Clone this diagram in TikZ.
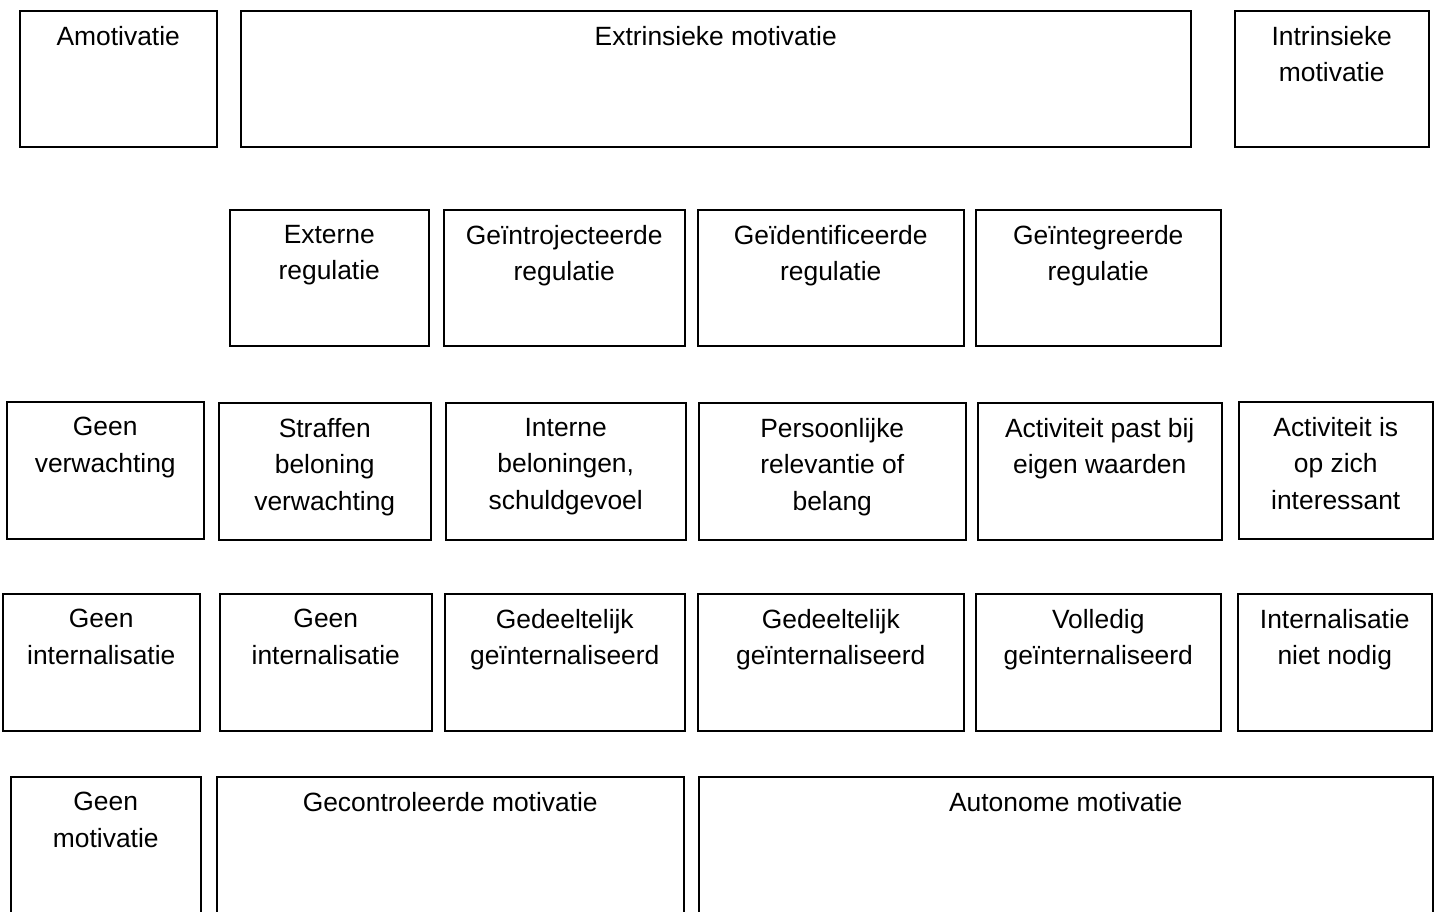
\documentclass[tikz,border=0pt]{standalone}
\usepackage{fontspec}
\setmainfont{Liberation Sans}
\usepackage{xcolor}
\usepackage{tikz}
\usetikzlibrary{positioning}
\tikzset{
  blok/.style 2 args={
    rectangle,
    draw=black,
    line width=1.5pt,
    anchor=north west,
    minimum width=#1,
    minimum height=#2,
    inner sep=0pt
  },
  bloktekst/.style={
    align=center,
    inner sep=0pt,
    font=\fontsize{26.4}{36.5}\selectfont
  }
}

\begin{document}
\begin{tikzpicture}[x=1pt,y=-1pt]
\useasboundingbox (0,0) rectangle (1435,911);
% rij 1: soort motivatie
\node[blok={197pt}{136pt}] (amotivatie) at (19,10) {};
\node[blok={950pt}{136pt}] (extrinsiek) at (240,10) {};
\node[blok={194pt}{136pt}] (intrinsiek) at (1234,10) {};
% rij 2: regulatie
\node[blok={199pt}{136pt}] (extern) at (229,209) {};
\node[blok={241pt}{136pt}] (introject) at (443,209) {};
\node[blok={266pt}{136pt}] (identif) at (697,209) {};
\node[blok={245pt}{136pt}] (integr) at (975,209) {};
% rij 3: reden
\node[blok={197pt}{137pt}] (geenverw) at (6,401) {};
\node[blok={212pt}{137pt}] (straf) at (218,402) {};
\node[blok={240pt}{137pt}] (intern) at (445,402) {};
\node[blok={267pt}{137pt}] (relevant) at (698,402) {};
\node[blok={244pt}{137pt}] (waarden) at (977,402) {};
\node[blok={194pt}{137pt}] (interessant) at (1238,401) {};
% rij 4: internalisatie
\node[blok={197pt}{137pt}] (geenint1) at (2,593) {};
\node[blok={212pt}{137pt}] (geenint2) at (219,593) {};
\node[blok={240pt}{137pt}] (gedeelt1) at (444,593) {};
\node[blok={266pt}{137pt}] (gedeelt2) at (697,593) {};
\node[blok={245pt}{137pt}] (volledig) at (975,593) {};
\node[blok={194pt}{137pt}] (nietnodig) at (1237,593) {};
% rij 5: loopt onder de rand door
\node[blok={190pt}{160pt}] (geenmot) at (10,776) {};
\node[blok={467pt}{160pt}] (gecontr) at (216,776) {};
\node[blok={734pt}{160pt}] (autonoom) at (698,776) {};

\node[bloktekst, below=16pt of amotivatie.north] (amotivatie-t) {Amotivatie};
\node[bloktekst, below=16pt of extrinsiek.north] (extrinsiek-t) {Extrinsieke motivatie};
\node[bloktekst, below=16pt of intrinsiek.north] (intrinsiek-t) {Intrinsieke\\motivatie};

\node[bloktekst, below=16pt of extern.north] (extern-t) {Externe\\regulatie};
\node[bloktekst, below=16pt of introject.north] (introject-t) {Geïntrojecteerde\\regulatie};
\node[bloktekst, below=16pt of identif.north] (identif-t) {Geïdentificeerde\\regulatie};
\node[bloktekst, below=16pt of integr.north] (integr-t) {Geïntegreerde\\regulatie};

\node[bloktekst, below=16pt of geenverw.north] (geenverw-t) {Geen\\verwachting};
\node[bloktekst, below=16pt of straf.north] (straf-t) {Straffen\\beloning\\verwachting};
\node[bloktekst, below=16pt of intern.north] (intern-t) {Interne\\beloningen,\\schuldgevoel};
\node[bloktekst, below=16pt of relevant.north] (relevant-t) {Persoonlijke\\relevantie of\\belang};
\node[bloktekst, below=16pt of waarden.north] (waarden-t) {Activiteit past bij\\eigen waarden};
\node[bloktekst, below=16pt of interessant.north] (interessant-t) {Activiteit is\\op zich\\interessant};

\node[bloktekst, below=16pt of geenint1.north] (geenint1-t) {Geen\\internalisatie};
\node[bloktekst, below=16pt of geenint2.north] (geenint2-t) {Geen\\internalisatie};
\node[bloktekst, below=16pt of gedeelt1.north] (gedeelt1-t) {Gedeeltelijk\\geïnternaliseerd};
\node[bloktekst, below=16pt of gedeelt2.north] (gedeelt2-t) {Gedeeltelijk\\geïnternaliseerd};
\node[bloktekst, below=16pt of volledig.north] (volledig-t) {Volledig\\geïnternaliseerd};
\node[bloktekst, below=16pt of nietnodig.north] (nietnodig-t) {Internalisatie\\niet nodig};

\node[bloktekst, below=16pt of geenmot.north] (geenmot-t) {Geen\\motivatie};
\node[bloktekst, below=16pt of gecontr.north] (gecontr-t) {Gecontroleerde motivatie};
\node[bloktekst, below=16pt of autonoom.north] (autonoom-t) {Autonome motivatie};
\end{tikzpicture}
\end{document}
